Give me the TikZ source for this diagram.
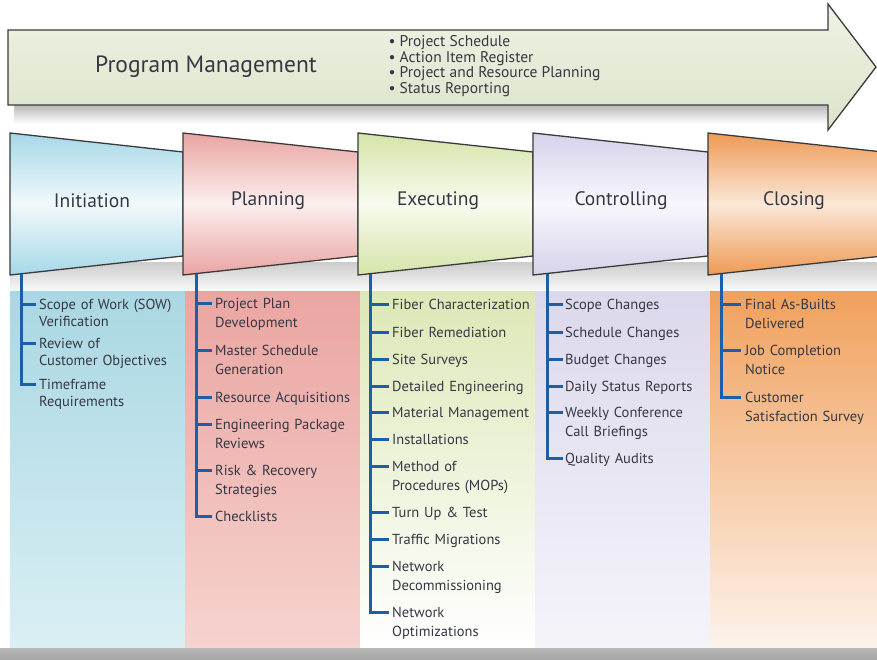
\documentclass[tikz,border=0pt]{standalone}
\usepackage{fontspec}
\setmainfont{PT Sans}
\definecolor{framegray}{HTML}{3A3A3A}
\definecolor{textgray}{HTML}{353843}
\definecolor{spineblue}{HTML}{1C5FA8}
\definecolor{pmtop}{HTML}{EEF2E4}
\definecolor{pmbottom}{HTML}{DCE4CA}
% phase heads: strong / pale
\definecolor{inistrong}{HTML}{A6D8E8}\definecolor{inipale}{HTML}{F2F9FB}
\definecolor{plastrong}{HTML}{E9A4A2}\definecolor{plapale}{HTML}{FBEFEE}
\definecolor{exestrong}{HTML}{D5E4A8}\definecolor{exepale}{HTML}{F8FBEF}
\definecolor{constrong}{HTML}{D6D2EA}\definecolor{conpale}{HTML}{F8F7FC}
\definecolor{clostrong}{HTML}{EE9A55}\definecolor{clopale}{HTML}{FBE8D8}
% columns: top / bottom
\definecolor{inicoltop}{HTML}{A9D7E3}\definecolor{inicolbot}{HTML}{DAEFF4}
\definecolor{placoltop}{HTML}{EAA5A1}\definecolor{placolbot}{HTML}{F6D3CF}
\definecolor{execoltop}{HTML}{DCE8B6}\definecolor{execolbot}{HTML}{FFFFFF}
\definecolor{concoltop}{HTML}{DCD8EC}\definecolor{concolbot}{HTML}{F5F4FA}
\definecolor{clocoltop}{HTML}{F0A05C}\definecolor{clocolbot}{HTML}{FDF3EB}
\tikzset{
  phase/.style={draw=framegray, line width=1.3pt, line join=miter},
  phasetitle/.style={font=\fontsize{19.5}{22}\selectfont, text=textgray},
  item/.style={anchor=base west, inner sep=0pt, text width=170pt, align=left,
    font=\fontsize{14.5}{19}\selectfont, text=textgray},
  tightitem/.style={item, font=\fontsize{14.5}{17}\selectfont},
  spine/.style={draw=spineblue, line width=3pt},
  tick/.style={draw=spineblue, line width=3pt},
}
\begin{document}
\begin{tikzpicture}[x=1pt,y=-1pt]
  \useasboundingbox (0,0) rectangle (877,659);
  \clip (0,0) rectangle (877,659);
  % column backgrounds
  \shade[top color=inicoltop, bottom color=inicolbot] (10,290) rectangle (185,648);
  \shade[top color=placoltop, bottom color=placolbot] (185,290) rectangle (360,648);
  \shade[top color=execoltop, bottom color=execolbot] (360,290) rectangle (535,648);
  \shade[top color=concoltop, bottom color=concolbot] (535,290) rectangle (710,648);
  \shade[top color=clocoltop, bottom color=clocolbot] (710,290) rectangle (877,648);
  % shadows
  \shade[top color=gray!40, bottom color=gray!6] (10,262) rectangle (877,290);
  \shade[top color=gray!55, bottom color=white] (14,105) rectangle (828,124);
  \shade[top color=gray!55, bottom color=gray!70] (0,648) rectangle (877,659);
  % program management arrow
  \draw[phase, top color=pmtop, bottom color=pmbottom]
    (8,30) -- (828,30) -- (828,4) -- (876,67) -- (828,130) -- (828,105) -- (8,105) -- cycle;
  \node[font=\fontsize{23.5}{26}\selectfont, text=textgray] (pm) at (206,67) {Program Management};
  \node[anchor=west, align=left, font=\fontsize{15.5}{15.7}\selectfont, text=textgray] (pmlist) at (385,66)
    {• Project Schedule\\• Action Item Register\\• Project and Resource Planning\\• Status Reporting};
  % phases
  \draw[phase, top color=inistrong, bottom color=inistrong, middle color=inipale]
    (10,133) -- (183,152) -- (183,256) -- (10,275) -- cycle;
  \draw[phase, top color=plastrong, bottom color=plastrong, middle color=plapale]
    (183,133) -- (358,152) -- (358,256) -- (183,275) -- cycle;
  \draw[phase, top color=exestrong, bottom color=exestrong, middle color=exepale]
    (358,133) -- (533,152) -- (533,256) -- (358,275) -- cycle;
  \draw[phase, top color=constrong, bottom color=constrong, middle color=conpale]
    (533,133) -- (708,152) -- (708,256) -- (533,275) -- cycle;
  \draw[phase, top color=clostrong, bottom color=clostrong, middle color=clopale]
    (708,133) -- (883,152) -- (883,256) -- (708,275) -- cycle;
  \node[phasetitle] (ini) at (92,201) {Initiation};
  \node[phasetitle] (pla) at (268,201) {Planning};
  \node[phasetitle] (exe) at (438,201) {Executing};
  \node[phasetitle] (con) at (621,201) {Controlling};
  \node[phasetitle] (clo) at (794,201) {Closing};
  % initiation items
  \coordinate (ini-top) at (21,274);
  \node[tightitem] (ini1) at (39,309) {Scope of Work (SOW)\\Verification};
  \node[tightitem] (ini2) at (39,348) {Review of\\Customer Objectives};
  \node[tightitem] (ini3) at (39,389) {Timeframe\\Requirements};
  \draw[spine] (ini-top) |- ([xshift=-3pt,yshift=5pt]ini3.base west);
  \foreach \n in {ini1,ini2}
    \draw[tick] ([yshift=5pt]\n.base west -| ini-top) -- ([xshift=-3pt,yshift=5pt]\n.base west);
  % planning items
  \coordinate (pla-top) at (196,274);
  \node[item] (pla1) at (215,308) {Project Plan\\Development};
  \node[item] (pla2) at (215,355) {Master Schedule\\Generation};
  \node[item] (pla3) at (215,402) {Resource Acquisitions};
  \node[item] (pla4) at (215,429) {Engineering Package\\Reviews};
  \node[item] (pla5) at (215,475) {Risk \& Recovery\\Strategies};
  \node[item] (pla6) at (215,521) {Checklists};
  \draw[spine] (pla-top) |- ([xshift=-3pt,yshift=5pt]pla6.base west);
  \foreach \n in {pla1,pla2,pla3,pla4,pla5}
    \draw[tick] ([yshift=5pt]\n.base west -| pla-top) -- ([xshift=-3pt,yshift=5pt]\n.base west);
  % executing items
  \coordinate (exe-top) at (370,274);
  \node[item] (exe1) at (392,309) {Fiber Characterization};
  \node[item] (exe2) at (392,337) {Fiber Remediation};
  \node[item] (exe3) at (392,364) {Site Surveys};
  \node[item] (exe4) at (392,391) {Detailed Engineering};
  \node[item] (exe5) at (392,417) {Material Management};
  \node[item] (exe6) at (392,444) {Installations};
  \node[item] (exe7) at (392,471) {Method of\\Procedures (MOPs)};
  \node[item] (exe8) at (392,517) {Turn Up \& Test};
  \node[item] (exe9) at (392,544) {Traffic Migrations};
  \node[item] (exe10) at (392,571) {Network\\Decommissioning};
  \node[item] (exe11) at (392,617) {Network\\Optimizations};
  \draw[spine] (exe-top) |- ([xshift=-3pt,yshift=5pt]exe11.base west);
  \foreach \n in {exe1,exe2,exe3,exe4,exe5,exe6,exe7,exe8,exe9,exe10}
    \draw[tick] ([yshift=5pt]\n.base west -| exe-top) -- ([xshift=-3pt,yshift=5pt]\n.base west);
  % controlling items
  \coordinate (con-top) at (547,274);
  \node[item] (con1) at (565,309) {Scope Changes};
  \node[item] (con2) at (565,337) {Schedule Changes};
  \node[item] (con3) at (565,364) {Budget Changes};
  \node[item] (con4) at (565,391) {Daily Status Reports};
  \node[item] (con5) at (565,417) {Weekly Conference\\Call Briefings};
  \node[item] (con6) at (565,463) {Quality Audits};
  \draw[spine] (con-top) |- ([xshift=-2pt,yshift=5pt]con6.base west);
  \foreach \n in {con1,con2,con3,con4,con5}
    \draw[tick] ([yshift=5pt]\n.base west -| con-top) -- ([xshift=-2pt,yshift=5pt]\n.base west);
  % closing items
  \coordinate (clo-top) at (721,274);
  \node[item] (clo1) at (745,309) {Final As-Builts\\Delivered};
  \node[item] (clo2) at (745,355) {Job Completion\\Notice};
  \node[item] (clo3) at (745,402) {Customer\\Satisfaction Survey};
  \draw[spine] (clo-top) |- ([xshift=-4pt,yshift=5pt]clo3.base west);
  \foreach \n in {clo1,clo2}
    \draw[tick] ([yshift=5pt]\n.base west -| clo-top) -- ([xshift=-4pt,yshift=5pt]\n.base west);
\end{tikzpicture}
\end{document}
